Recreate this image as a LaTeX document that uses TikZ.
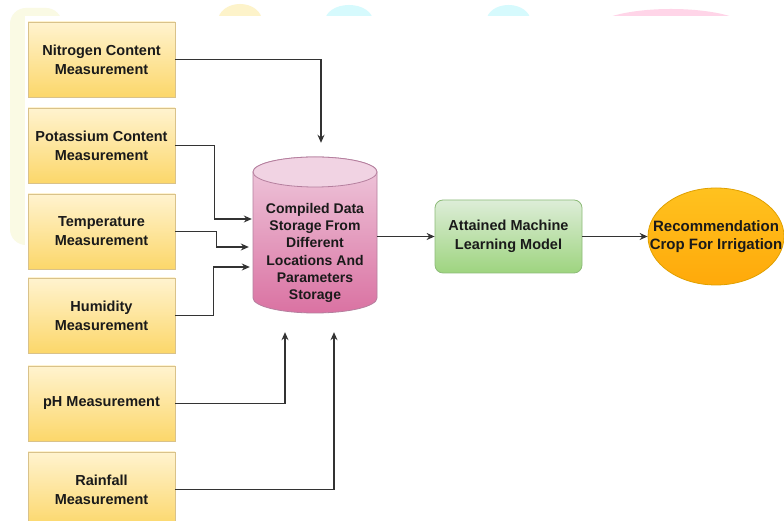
\documentclass[tikz,border=0pt]{standalone}
\usepackage{fontspec}
\setmainfont{Liberation Sans}
\usetikzlibrary{arrows.meta,calc,shapes.geometric}
\definecolor{boxtop}{HTML}{FFF3CF}
\definecolor{boxbot}{HTML}{FCD76A}
\definecolor{boxline}{HTML}{D9C28A}
\definecolor{dbtop}{HTML}{EFCADD}
\definecolor{dbbot}{HTML}{DA72A2}
\definecolor{dbcap}{HTML}{F1D3E3}
\definecolor{dbline}{HTML}{B57F9E}
\definecolor{mltop}{HTML}{DDEDD8}
\definecolor{mlbot}{HTML}{9ED47F}
\definecolor{mlline}{HTML}{8DBB78}
\definecolor{rectop}{HTML}{FFC21F}
\definecolor{recbot}{HTML}{FFA90A}
\definecolor{recline}{HTML}{E0A000}
\definecolor{txt}{HTML}{1A1A1A}
\definecolor{arrcol}{HTML}{333333}
\definecolor{paleY}{HTML}{FAFAE4}
\definecolor{blobY}{HTML}{FDF3CA}
\definecolor{blobC}{HTML}{D6FAFD}
\definecolor{blobP}{HTML}{FFD5E8}
\begin{document}
\begin{tikzpicture}[x=1pt,y=1pt,
  meas/.style={rectangle, draw=boxline, line width=0.8pt, top color=boxtop, bottom color=boxbot,
    minimum width=147pt, minimum height=75pt, inner sep=0pt, align=center,
    font=\fontsize{14.5}{19}\selectfont\bfseries, text=txt},
  dbbox/.style={rectangle, minimum width=124pt, minimum height=156pt, inner sep=0pt},
  dbtxt/.style={align=center, inner sep=0pt, font=\fontsize{14}{17.3}\selectfont\bfseries, text=txt},
  mlbox/.style={rectangle, rounded corners=8pt, draw=mlline, line width=0.8pt, top color=mltop, bottom color=mlbot,
    minimum width=147pt, minimum height=73pt, inner sep=0pt, align=center,
    font=\fontsize{14.5}{19}\selectfont\bfseries, text=txt},
  recbox/.style={ellipse, draw=recline, line width=0.8pt, top color=rectop, bottom color=recbot,
    minimum width=136pt, minimum height=97pt, inner sep=0pt, align=center,
    font=\fontsize{15}{18}\selectfont\bfseries, text=txt},
  arr/.style={draw=arrcol, line width=1.2pt, -{Stealth[length=8pt,width=7pt]}}
]
\useasboundingbox (0,0) rectangle (784,521);
\fill[white] (0,0) rectangle (784,521);
% faint background artifacts
\fill[paleY, rounded corners=16pt] (10,276) rectangle (62,513);
\begin{scope}
  \clip (0,505) rectangle (784,521);
  \fill[blobY] (240,500) ellipse[x radius=22, y radius=17];
  \fill[blobC] (349,500) ellipse[x radius=24, y radius=16];
  \fill[blobC] (508.5,500) ellipse[x radius=22, y radius=16];
  \fill[blobP] (671,490) ellipse[x radius=80, y radius=22];
\end{scope}
\fill[white] (25,0) rectangle (784,505);

% measurement boxes
\node[meas] (N) at (101.5,461.5) {Nitrogen Content\\Measurement};
\node[meas] (K) at (101.5,375.5) {Potassium Content\\Measurement};
\node[meas] (T) at (101.5,289.5) {Temperature\\Measurement};
\node[meas] (H) at (101.5,205.5) {Humidity\\Measurement};
\node[meas] (P) at (101.5,117.5) {pH Measurement};
\node[meas] (R) at (101.5,31.5) {Rainfall\\Measurement};

% cylinder
\node[dbbox] (db) at (315,286) {};
\draw[draw=dbline, line width=0.8pt, top color=dbtop, bottom color=dbbot]
  (253,349) -- (253,223) arc[start angle=180, end angle=360, x radius=62, y radius=15]
  -- (377,349) arc[start angle=0, end angle=180, x radius=62, y radius=15] -- cycle;
\draw[draw=dbline, line width=0.8pt, fill=dbcap] (315,349) ellipse[x radius=62, y radius=15];
\node[dbtxt] (dbt) at (315,268) {Compiled Data\\Storage From\\Different\\Locations And\\Parameters\\Storage};

% model and result
\node[mlbox] (ml) at (508.5,284.5) {Attained Machine\\Learning Model};
\node[recbox] (rec) at (716,284.5) {\makebox[0pt]{Recommendation}\\\makebox[0pt]{Crop For Irrigation}};

% connector ends
\coordinate (inN) at ($(db.north)+(6,14)$);
\coordinate (inK) at ($(db.west)+(-1,16)$);
\coordinate (inT) at ($(db.west)+(-4,-12)$);
\coordinate (inH) at ($(db.west)+(-3,-32)$);
\coordinate (inP) at ($(db.south)+(-30,-19)$);
\coordinate (inR) at ($(db.south)+(19,-19)$);

\draw[arr] (N.east) -| (inN);
\draw[arr] (K.east) -- ++(39,0) |- (inK);
\draw[arr] (T.east) -- ++(41,0) |- (inT);
\draw[arr] (H.east) -- ++(38,0) |- (inH);
\draw[arr] (P.east) -| (inP);
\draw[arr] (R.east) -| (inR);
\draw[arr] (ml.west -| db.east) -- (ml.west);
\draw[arr] (ml.east) -- (rec.west);
\end{tikzpicture}
\end{document}
